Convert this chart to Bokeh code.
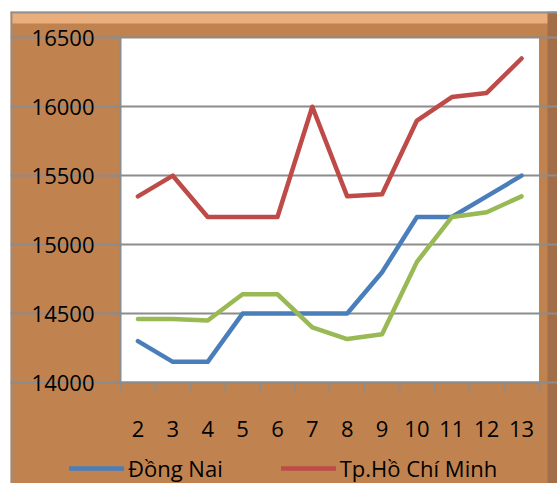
from bokeh.plotting import figure
from bokeh.models import FixedTicker, Legend, LegendItem, Range1d
from bokeh.embed import file_html
from bokeh.resources import INLINE

# ---- data ----
x_vals = [2, 3, 4, 5, 6, 7, 8, 9, 10, 11, 12, 13]
dong_nai = [14300, 14150, 14150, 14500, 14500, 14500, 14500, 14800, 15200, 15200, 15350, 15500]
hcm = [15350, 15500, 15200, 15200, 15200, 16000, 15350, 15365, 15900, 16070, 16100, 16350]
third = [14460, 14460, 14450, 14640, 14640, 14400, 14315, 14350, 14875, 15200, 15235, 15350]
y_ticks = [14000, 14500, 15000, 15500, 16000, 16500]
series_names = ["Đồng Nai", "Tp.Hồ Chí Minh"]

TAN = "#C0834F"
GRID = "#8C8C8C"
FONT = "Open Sans"

# ---- layout geometry (pixels) ----
W, H = 547, 472                  # figure = frame
PX_LEFT, PX_RIGHT = 110, 528.5   # plot area, relative to figure left
PY_TOP, PY_BOT = 26.3, 371       # plot area, relative to figure top
X0, X1 = 1.5, 13.5
Y0, Y1 = 14000, 16500
kx = (PX_RIGHT - PX_LEFT) / (X1 - X0)
ky = (PY_BOT - PY_TOP) / (Y1 - Y0)
x_start = X0 - PX_LEFT / kx
x_end = X1 + (W - PX_RIGHT) / kx
y_end = Y1 + PY_TOP / ky
y_start = Y0 - (H - PY_BOT) / ky

p = figure(width=W, height=H, output_backend="svg", toolbar_location=None,
           x_range=Range1d(x_start, x_end), y_range=Range1d(y_start, y_end),
           min_border_left=0, min_border_top=0, min_border_right=0, min_border_bottom=0)
p.margin = (11, 0, 0, 10)
p.background_fill_color = TAN
p.border_fill_color = TAN
p.outline_line_color = None

# plot area and frame bevel
p.quad(left=X0, right=X1, bottom=Y0, top=Y1, fill_color="white", line_color=None, level="image")
p.quad(left=x_start, right=x_end, bottom=y_end - 12 / ky, top=y_end,
       fill_color="#E9AE7C", line_color=None, level="image")
p.quad(left=X1 + (W - 10 - PX_RIGHT) / kx, right=x_end, bottom=y_start, top=y_end,
       fill_color="#A26E47", line_color=None, level="image")
p.quad(left=x_start, right=x_start + 2 / kx, bottom=y_start, top=y_end,
       fill_color="#8F8F8F", line_color=None, level="image")
p.quad(left=x_start, right=x_end, bottom=y_end - 2 / ky, top=y_end,
       fill_color="#8F8F8F", line_color=None, level="image")

# axes
p.xaxis.fixed_location = Y0
p.xaxis.bounds = (X0, X1)
p.xaxis.ticker = FixedTicker(ticks=x_vals, minor_ticks=[v - 0.5 for v in x_vals] + [13.5])
p.xaxis.major_tick_line_color = None
p.xaxis.minor_tick_line_color = GRID
p.xaxis.minor_tick_line_width = 2
p.xaxis.minor_tick_out = 8
p.xaxis.minor_tick_in = 0
p.xaxis.axis_line_color = GRID
p.xaxis.axis_line_width = 2
p.xaxis.major_label_standoff = 30
p.xaxis.major_label_text_font = FONT
p.xaxis.major_label_text_font_size = "22px"
p.xaxis.major_label_text_color = "black"

p.yaxis.fixed_location = X0
p.yaxis.bounds = (Y0, Y1)
p.yaxis.ticker = FixedTicker(ticks=y_ticks)
p.yaxis.minor_tick_line_color = None
p.yaxis.major_tick_line_color = GRID
p.yaxis.major_tick_line_width = 2
p.yaxis.major_tick_out = 8
p.yaxis.major_tick_in = 0
p.yaxis.axis_line_color = GRID
p.yaxis.axis_line_width = 2
p.yaxis.major_label_standoff = 18
p.yaxis.major_label_text_font = FONT
p.yaxis.major_label_text_font_size = "22px"
p.yaxis.major_label_text_color = "black"

p.xgrid.grid_line_color = None
p.ygrid.grid_line_color = GRID
p.ygrid.grid_line_width = 2
p.ygrid.ticker = FixedTicker(ticks=y_ticks)
p.ygrid.bounds = (X0, X1)

r1 = p.line(x_vals, dong_nai, line_color="#4A7EBB", line_width=4.5, line_cap="round", line_join="round")
r2 = p.line(x_vals, hcm, line_color="#BE4B48", line_width=4.5, line_cap="round", line_join="round")
r3 = p.line(x_vals, third, line_color="#98B954", line_width=4.5, line_cap="round", line_join="round")

legend = Legend(items=[LegendItem(label=series_names[0], renderers=[r1]),
                       LegendItem(label=series_names[1], renderers=[r2])],
                orientation="horizontal", location=(59, 0),
                glyph_width=55, glyph_height=26, label_height=26, label_standoff=4, spacing=58,
                padding=0, margin=0, border_line_color=None, background_fill_alpha=0,
                label_text_font=FONT, label_text_font_size="22px", label_text_color="black")
p.add_layout(legend, "center")

open("out.html", "w").write(file_html(p, INLINE))
